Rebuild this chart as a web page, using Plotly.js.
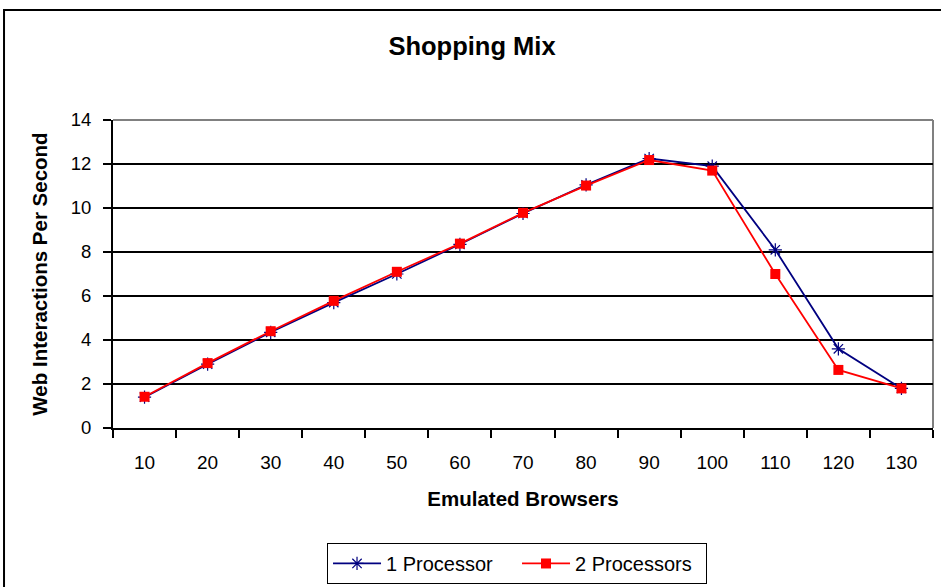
<!DOCTYPE html>
<html>
<head>
<meta charset="utf-8">
<script src="https://cdn.plot.ly/plotly-3.0.1.min.js"></script>
<style>html,body{margin:0;padding:0;background:#fff;}#chart{width:941px;height:587px;}</style>
</head>
<body>
<div id="chart"></div>
<script>
var browsers = ["10","20","30","40","50","60","70","80","90","100","110","120","130"];
var oneProcessor = [1.4, 2.9, 4.35, 5.7, 7.0, 8.35, 9.75, 11.05, 12.25, 11.9, 8.1, 3.6, 1.8];
var twoProcessors = [1.42, 2.95, 4.4, 5.78, 7.1, 8.38, 9.78, 11.02, 12.18, 11.7, 7.0, 2.64, 1.8];
var yTicks = [0, 2, 4, 6, 8, 10, 12, 14];

var FONT = "Liberation Sans, Arial, sans-serif";

var traces = [
  {
    x: browsers, y: oneProcessor, name: "1 Processor", type: "scatter", mode: "lines+markers",
    line: {color: "#000080", width: 1.8},
    marker: {symbol: "asterisk-open", size: 11, color: "#000080", line: {color: "#000080", width: 1.2}}
  },
  {
    x: browsers, y: twoProcessors, name: "2 Processors", type: "scatter", mode: "lines+markers",
    line: {color: "#FF0000", width: 1.8},
    marker: {symbol: "square", size: 10, color: "#FF0000"}
  }
];

var layout = {
  width: 941, height: 587,
  margin: {l: 113, r: 8, t: 120, b: 159},
  paper_bgcolor: "#ffffff",
  plot_bgcolor: "#ffffff",
  font: {family: FONT, color: "#000", size: 18},
  showlegend: true,
  title: {text: "<b>Shopping Mix</b>", font: {family: FONT, size: 25.5, color: "#000"},
          x: 0.5016, xanchor: "center", y: 0.921, yanchor: "middle", xref: "container"},
  xaxis: {
    type: "category", range: [-0.5, 12.5],
    tickson: "boundaries", ticks: "outside", ticklen: 8, tickwidth: 2, tickcolor: "#000",
    ticklabelstandoff: 16,
    showline: true, linecolor: "#000", linewidth: 2, showgrid: false, zeroline: false,
    tickfont: {family: FONT, size: 19, color: "#000"},
    title: {text: "<b>Emulated Browsers</b>", font: {family: FONT, size: 20.5, color: "#000"}, standoff: 20},
    fixedrange: true
  },
  yaxis: {
    range: [0, 14], tickvals: yTicks, ticks: "outside", ticklen: 8, tickwidth: 2, tickcolor: "#000",
    ticklabelstandoff: 8,
    showline: true, linecolor: "#000", linewidth: 2,
    showgrid: true, gridcolor: "#000", gridwidth: 2, zeroline: false,
    tickfont: {family: FONT, size: 18.5, color: "#000"},
    title: {text: "<b>Web Interactions Per Second</b>", font: {family: FONT, size: 20.5, color: "#000"}, standoff: 18},
    fixedrange: true
  },
  legend: {
    orientation: "h", xref: "paper", x: 0.261, xanchor: "left",
    yref: "container", y: 0.075, yanchor: "top",
    bordercolor: "#000", borderwidth: 1, bgcolor: "#fff",
    font: {family: FONT, size: 20, color: "#000"},
    itemwidth: 48, entrywidth: 126,
    traceorder: "normal"
  },
  shapes: [
    {type: "line", xref: "paper", yref: "paper", x0: 0, x1: 1, y0: 1, y1: 1, line: {color: "#808080", width: 2}, layer: "below"},
    {type: "line", xref: "paper", yref: "paper", x0: 1, x1: 1, y0: 0, y1: 1, line: {color: "#808080", width: 2}, layer: "below"},
    {type: "rect", xref: "paper", yref: "paper", x0: -0.1329, x1: 1.1, y0: 1.357, y1: -0.65, line: {color: "#000", width: 2}, fillcolor: "rgba(0,0,0,0)"}
  ]
};

Plotly.newPlot("chart", traces, layout, {displayModeBar: false, staticPlot: true});
</script>
</body>
</html>
